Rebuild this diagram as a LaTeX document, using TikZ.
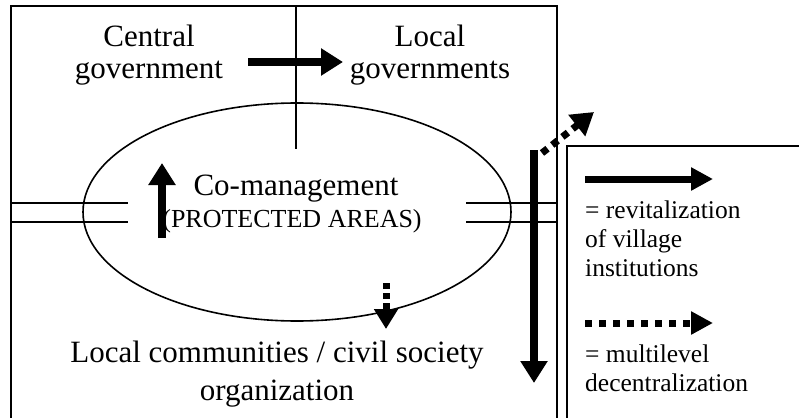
\documentclass[tikz,border=0pt]{standalone}
\usepackage{fontspec}
\setmainfont{Liberation Serif}
\usetikzlibrary{arrows.meta,shapes.geometric}
\begin{document}
\begin{tikzpicture}[x=1pt,y=-1pt,
  frame/.style={line width=1.6pt},
  bigtxt/.style={font=\fontsize{31}{36}\selectfont, inner sep=0pt, anchor=base},
  midtxt/.style={font=\fontsize{26}{30}\selectfont, inner sep=0pt, anchor=base},
  legtxt/.style={font=\fontsize{25.5}{30}\selectfont, inner sep=0pt, anchor=base west},
  solidarrow/.style={line width=8pt, -{Triangle[length=22pt,width=26pt]}},
  dotarrow/.style={line width=7pt, dash pattern=on 7pt off 6pt, -{Triangle[length=22pt,width=26pt]}},
]
\useasboundingbox (0,0) rectangle (799,417);

% outer frame (open at the bottom) and legend box
\coordinate (fbl) at (11,418);
\coordinate (ftl) at (11,6);
\coordinate (ftr) at (557,6);
\coordinate (fbr) at (557,418);
\draw[frame] (fbl) -- (ftl) -- (ftr) -- (fbr);
\coordinate (lbl) at (567,418);
\coordinate (ltl) at (567,146);
\coordinate (ltr) at (800,146);
\draw[frame] (lbl) -- (ltl) -- (ltr);

% central ellipse and the divider between the two governments
\node[ellipse, draw, line width=1.6pt, inner sep=0pt, minimum width=428pt, minimum height=218pt] (em) at (297,212) {};
\coordinate (dtop) at (296,6);
\coordinate (dbot) at (296,149);
\draw[frame] (dtop) -- (dbot);

% double lines crossing the frame sides
\coordinate (la1) at (11,203);  \coordinate (lb1) at (128,203);
\coordinate (la2) at (11,222);  \coordinate (lb2) at (128,222);
\coordinate (ra1) at (466,203); \coordinate (rb1) at (557,203);
\coordinate (ra2) at (466,222); \coordinate (rb2) at (557,222);
\draw[frame] (la1) -- (lb1) (la2) -- (lb2) (ra1) -- (rb1) (ra2) -- (rb2);

% texts
\node[bigtxt] (cg1) at (149,47) {Central};
\node[bigtxt] (cg2) at (149,79) {government};
\node[bigtxt] (lg1) at (430,47) {Local};
\node[bigtxt] (lg2) at (430,79) {governments};
\node[bigtxt] (cm) at (296,195) {Co-management};
\node[midtxt] (pa) at (292,227) {(PROTECTED AREAS)};
\node[bigtxt] (lc1) at (277,362) {Local communities / civil society};
\node[bigtxt] (lc2) at (277,400) {organization};

% arrows
\coordinate (a1s) at (248,62);  \coordinate (a1e) at (343,62);
\draw[solidarrow] (a1s) -- (a1e);
\coordinate (a2s) at (162,238); \coordinate (a2e) at (162,163);
\draw[solidarrow] (a2s) -- (a2e);
\coordinate (a3s) at (534,150); \coordinate (a3e) at (534,383);
\draw[solidarrow] (a3s) -- (a3e);
\coordinate (d1s) at (542,153); \coordinate (d1e) at (594,112);
\draw[dotarrow] (d1s) -- (d1e);
\coordinate (d2s) at (386,283); \coordinate (d2e) at (386,329);
\draw[line width=7pt, dash pattern=on 6pt off 4pt, -{Triangle[length=20pt,width=23pt]}] (d2s) -- (d2e);

% legend
\coordinate (ls1) at (585,179); \coordinate (le1) at (713,179);
\draw[line width=7pt, -{Triangle[length=22pt,width=22pt]}] (ls1) -- (le1);
\node[legtxt] (t1) at (585,218) {= revitalization};
\node[legtxt] (t2) at (585,247) {of village};
\node[legtxt] (t3) at (585,276) {institutions};
\coordinate (ls2) at (585,323); \coordinate (le2) at (713,323);
\draw[line width=7pt, dash pattern=on 7pt off 7pt, -{Triangle[length=22pt,width=22pt]}] (ls2) -- (le2);
\node[legtxt] (t4) at (585,362) {= multilevel};
\node[legtxt] (t5) at (585,391) {decentralization};
\end{tikzpicture}
\end{document}
